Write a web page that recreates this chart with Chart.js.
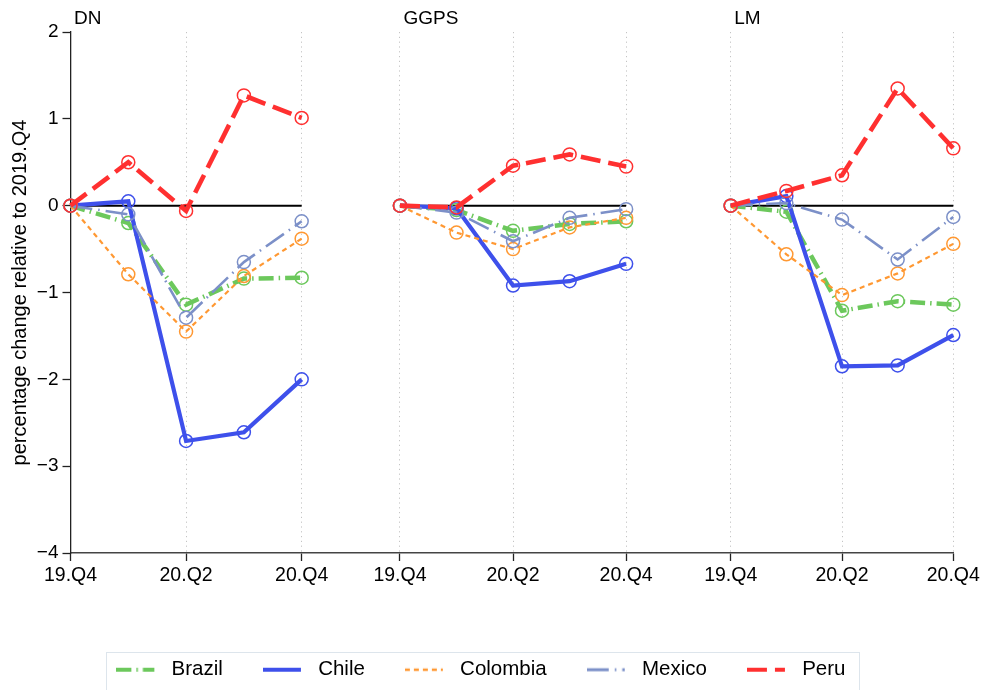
<!DOCTYPE html>
<html><head><meta charset="utf-8">
<script src="https://cdn.jsdelivr.net/npm/chart.js@4.4.1/dist/chart.umd.min.js"></script>
<style>html,body{margin:0;padding:0;background:#fff;} canvas{display:block;}</style>
</head><body>
<canvas id="c" width="984" height="690"></canvas>
<script>
// ---------------- data ----------------
const panels = ['DN', 'GGPS', 'LM'];
const quarters = ['19.Q4', '20.Q1', '20.Q2', '20.Q3', '20.Q4'];
const labeledQuarterIdx = [0, 2, 4];
const countries = ['Brazil', 'Chile', 'Colombia', 'Mexico', 'Peru'];
const yTicks = [-4, -3, -2, -1, 0, 1, 2];

// DN
const brazilDN   = [0, -0.20, -1.14, -0.84, -0.83];
const chileDN    = [0,  0.05, -2.71, -2.61, -2.00];
const colombiaDN = [0, -0.79, -1.45, -0.81, -0.38];
const mexicoDN   = [0, -0.10, -1.29, -0.65, -0.18];
const peruDN     = [0,  0.50, -0.06,  1.27,  1.01];
// GGPS
const brazilGGPS   = [0, -0.05, -0.29, -0.21, -0.18];
const chileGGPS    = [0, -0.03, -0.92, -0.87, -0.67];
const colombiaGGPS = [0, -0.31, -0.50, -0.25, -0.14];
const mexicoGGPS   = [0, -0.08, -0.41, -0.14, -0.04];
const peruGGPS     = [0, -0.02,  0.46,  0.59,  0.45];
// LM
const brazilLM   = [0, -0.07, -1.21, -1.10, -1.14];
const chileLM    = [0,  0.11, -1.85, -1.84, -1.49];
const colombiaLM = [0, -0.56, -1.03, -0.78, -0.44];
const mexicoLM   = [0,  0.03, -0.16, -0.62, -0.13];
const peruLM     = [0,  0.17,  0.35,  1.35,  0.66];

const seriesByCountry = [
  [brazilDN, brazilGGPS, brazilLM],
  [chileDN, chileGGPS, chileLM],
  [colombiaDN, colombiaGGPS, colombiaLM],
  [mexicoDN, mexicoGGPS, mexicoLM],
  [peruDN, peruGGPS, peruLM]
];

// ---------------- layout / styles ----------------
const panelStart = [0, 329.5, 660.3];
const panelStep = [57.8, 56.55, 55.65];
const xOf = (p, i) => panelStart[p] + i * panelStep[p];

const styles = [
  { color: 'rgb(108,200,92)',  width: 4.5, dash: [15, 5, 1.5, 5], lw: 4 },
  { color: 'rgb(62,80,235)',   width: 4.2, dash: [],               lw: 4 },
  { color: 'rgb(255,152,50)',  width: 2.2, dash: [5, 4],           lw: 2.5 },
  { color: 'rgb(124,144,200)', width: 2.6, dash: [22, 6, 1.5, 6],  lw: 3 },
  { color: 'rgb(255,48,48)',   width: 4.6, dash: [20, 8],          lw: 4 }
];

function buildPoints(arrs) {
  const pts = [];
  arrs.forEach((arr, p) => {
    arr.forEach((v, i) => pts.push({ x: xOf(p, i), y: v }));
    if (p < arrs.length - 1) pts.push({ x: (xOf(p, 4) + xOf(p + 1, 0)) / 2, y: null });
  });
  return pts;
}

function makeIcon(s) {
  const c = document.createElement('canvas');
  c.width = 45; c.height = 12;
  const g = c.getContext('2d');
  g.strokeStyle = s.color; g.lineWidth = s.lw; g.setLineDash(s.dash);
  g.beginPath(); g.moveTo(0, 6); g.lineTo(38, 6); g.stroke();
  return c;
}
const icons = styles.map(makeIcon);

const tickValues = [];
const tickLabels = [];
panels.forEach((p, pi) => labeledQuarterIdx.forEach(i => {
  tickValues.push(xOf(pi, i));
  tickLabels.push(quarters[i]);
}));

const datasets = countries.map((name, ci) => ({
  label: name,
  data: buildPoints(seriesByCountry[ci]),
  borderColor: styles[ci].color,
  borderWidth: styles[ci].width,
  borderDash: styles[ci].dash,
  pointRadius: 6.5,
  pointBorderWidth: 1.5,
  pointBorderColor: styles[ci].color,
  pointBackgroundColor: 'rgba(0,0,0,0)',
  pointHoverRadius: 6.5,
  fill: false,
  tension: 0,
  spanGaps: false,
  clip: false,
  order: countries.length - ci
}));

const FONT = "'Liberation Sans', Arial, Helvetica, sans-serif";
Chart.defaults.font.family = FONT;
Chart.defaults.color = '#000';

const decor = {
  id: 'decor',
  beforeDatasetsDraw(chart) {
    const { ctx, scales: { x, y } } = chart;
    const y0 = y.getPixelForValue(0);
    ctx.save();
    ctx.strokeStyle = '#000';
    ctx.lineWidth = 2;
    panels.forEach((p, pi) => {
      ctx.beginPath();
      ctx.moveTo(x.getPixelForValue(xOf(pi, 0)), y0);
      ctx.lineTo(x.getPixelForValue(xOf(pi, 4)), y0);
      ctx.stroke();
    });
    ctx.restore();
  },
  afterDraw(chart) {
    const { ctx, scales: { x } } = chart;
    ctx.save();
    ctx.fillStyle = '#000';
    ctx.font = '19px ' + FONT;
    ctx.textBaseline = 'alphabetic';
    ctx.textAlign = 'left';
    panels.forEach((p, pi) => {
      ctx.fillText(p, x.getPixelForValue(xOf(pi, 0)) + 3.5, 23.5);
    });
    const hb = chart.legend.legendHitBoxes;
    if (hb && hb.length) {
      const l = hb[0].left - 10;
      const last = hb[hb.length - 1];
      const r = last.left + last.width + 14;
      const t = hb[0].top - 8;
      ctx.strokeStyle = '#dde5ec';
      ctx.lineWidth = 1;
      ctx.strokeRect(Math.round(l) + 0.5, Math.round(t) + 0.5, Math.round(r - l), 60);
    }
    ctx.restore();
  }
};

new Chart(document.getElementById('c'), {
  type: 'line',
  data: { datasets },
  plugins: [decor],
  options: {
    responsive: false,
    animation: false,
    devicePixelRatio: 1,
    layout: { padding: { top: 32, left: 8.5, right: 30.7, bottom: 0 } },
    plugins: {
      tooltip: { enabled: false },
      legend: {
        position: 'bottom',
        labels: {
          usePointStyle: true,
          pointStyleWidth: 45,
          padding: 40,
          color: '#000',
          font: { size: 20.5 },
          generateLabels: (chart) => chart.data.datasets.map((ds, i) => ({
            text: ds.label,
            pointStyle: icons[i],
            datasetIndex: i,
            hidden: false,
            fillStyle: 'rgba(0,0,0,0)',
            strokeStyle: 'rgba(0,0,0,0)',
            lineWidth: 0,
            fontColor: '#000'
          }))
        }
      }
    },
    scales: {
      x: {
        type: 'linear',
        min: 0,
        max: xOf(2, 4),
        afterBuildTicks: (s) => { s.ticks = tickValues.map(v => ({ value: v })); },
        afterFit: (s) => { s.height = 66.5; },
        ticks: {
          autoSkip: false, maxRotation: 0, minRotation: 0, padding: 3,
          font: { size: 19.5 }, color: '#000',
          callback: (v, i) => tickLabels[i]
        },
        grid: {
          display: true, drawOnChartArea: true, drawTicks: true,
          color: '#c4c4c4', lineWidth: 1,
          tickLength: 8, tickColor: '#222', tickWidth: 1.3
        },
        border: { display: true, color: '#444', width: 1.5, dash: [1.2, 3.6] }
      },
      y: {
        type: 'linear',
        min: -4,
        max: 2,
        afterBuildTicks: (s) => { s.ticks = yTicks.map(v => ({ value: v })); },
        afterFit: (s) => { s.width = 62; },
        ticks: {
          font: { size: 19 }, color: '#000', padding: 4,
          callback: (v) => v < 0 ? '\u2212' + Math.abs(v) : String(v)
        },
        grid: { drawOnChartArea: false, drawTicks: true, tickLength: 8, tickColor: '#222', tickWidth: 1.3 },
        border: { display: true, color: '#222', width: 1.3 },
        title: {
          display: true,
          text: 'percentage change relative to 2019.Q4',
          font: { size: 20 }, color: '#000',
          padding: { top: 0, bottom: 0 }
        }
      }
    }
  }
});
</script>
</body></html>
